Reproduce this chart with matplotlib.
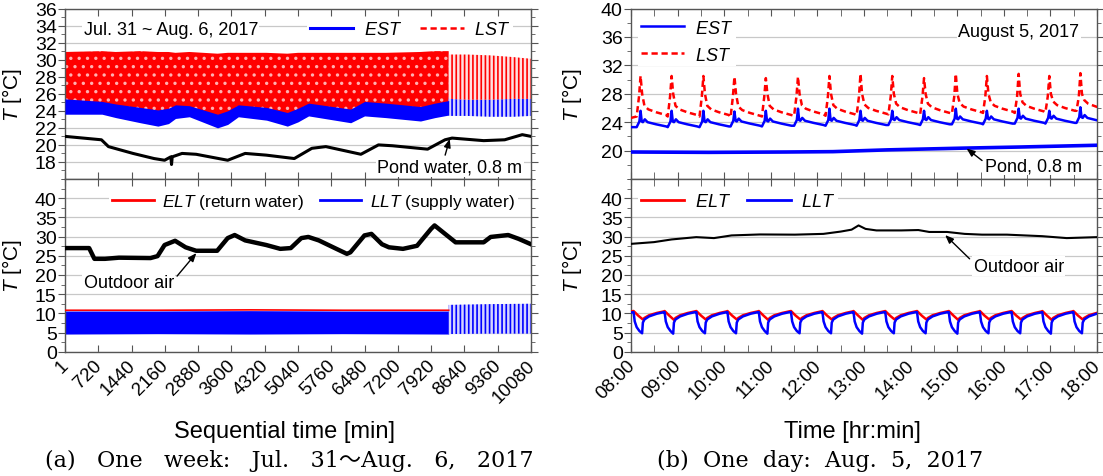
import numpy as np
import matplotlib.pyplot as plt
from matplotlib.lines import Line2D
from matplotlib.ticker import MultipleLocator
from matplotlib.transforms import ScaledTranslation

plt.rcParams['font.family'] = ['Liberation Sans', 'DejaVu Sans']
plt.rcParams['mathtext.fontset'] = 'custom'
plt.rcParams['mathtext.rm'] = 'Liberation Sans'
plt.rcParams['mathtext.it'] = 'Liberation Sans:italic'
plt.rcParams['hatch.linewidth'] = 1.2

RED = '#ff0000'
BLUE = '#0000ff'
GRID = '#c8c8c8'
SPINE = '#555555'

# ---------------- (a) one week, sequential time [min] ----------------
week_ticks = [1, 720, 1440, 2160, 2880, 3600, 4320, 5040, 5760, 6480,
              7200, 7920, 8640, 9360, 10080]

pond_t = [1, 789, 941, 1472, 1927, 2155, 2290, 2305, 2320, 2533, 2837, 3520,
          3898, 4353, 4960, 5340, 5643, 6401, 6781, 7084, 7843, 8221, 8373,
          9056, 9511, 9891, 10080]
pond_v = [21.0, 20.6, 19.8, 19.0, 18.4, 18.2, 18.6, 17.7, 18.6, 19.0, 18.9,
          18.2, 19.0, 18.8, 18.4, 19.6, 19.8, 18.9, 20.0, 19.9, 19.5, 20.6,
          20.8, 20.5, 20.6, 21.2, 21.0]

# dense oscillation envelopes
band_t = [1, 800, 1100, 1630, 2010, 2240, 2390, 2690, 3300, 3520, 3750, 4360,
          4810, 5040, 5270, 6180, 6480, 6940, 7690, 8000, 8300]
est_lo = [23.6, 23.6, 23.2, 22.6, 22.2, 22.5, 23.1, 23.3, 22.0, 22.4, 23.3,
          22.9, 22.2, 22.7, 23.4, 22.6, 23.4, 23.2, 22.8, 23.2, 23.5]
est_hi = [25.4, 25.1, 24.8, 24.4, 24.1, 24.3, 24.7, 24.6, 23.6, 24.0, 24.7,
          24.4, 23.8, 24.3, 24.9, 24.2, 25.1, 24.9, 24.5, 24.9, 25.2]
lst_lo = [24.8, 24.6, 24.4, 24.0, 23.8, 23.9, 24.3, 24.2, 23.3, 23.6, 24.3,
          24.0, 23.5, 23.9, 24.5, 23.8, 24.7, 24.5, 24.1, 24.5, 24.8]
lst_hi = [30.9, 31.0, 30.9, 31.0, 30.9, 30.9, 30.8, 30.9, 30.7, 30.8, 30.8,
          30.8, 30.7, 30.8, 30.8, 30.8, 30.8, 30.8, 30.9, 31.0, 31.0]

# sparse part at the end of the week
sparse_t = [8300, 8700, 9200, 9700, 10080]
lst_sp_lo = [25.4, 25.3, 25.3, 25.4, 25.4]
lst_sp_hi = [30.6, 30.6, 30.5, 30.3, 30.1]
est_sp_lo = [23.4, 23.4, 23.3, 23.3, 23.4]
est_sp_hi = [25.6, 25.6, 25.5, 25.6, 25.6]

air_t = [1, 523, 637, 865, 1168, 1850, 2002, 2155, 2382, 2610, 2837, 3292,
         3520, 3671, 3898, 4353, 4657, 4884, 5112, 5264, 5491, 5871, 6098,
         6174, 6478, 6629, 6857, 7008, 7311, 7615, 7918, 7994, 8221, 8449,
         9056, 9208, 9587, 9814, 10080]
air_v = [27.0, 27.0, 24.2, 24.2, 24.5, 24.4, 24.9, 27.8, 28.9, 27.2, 26.3,
         26.3, 29.6, 30.4, 29.0, 27.8, 26.8, 27.0, 29.6, 29.9, 29.0, 26.8,
         25.5, 25.9, 30.3, 30.7, 28.0, 27.2, 26.8, 27.6, 32.0, 32.9, 30.7,
         28.5, 28.5, 29.9, 30.4, 29.4, 28.0]

loop_t = [1, 2000, 4000, 6000, 8300]
llt_lo = [4.6, 4.7, 4.6, 4.7, 4.6]
llt_hi = [10.6, 10.6, 10.7, 10.6, 10.6]
elt_v = [10.8, 10.8, 10.9, 10.8, 10.8]
llt_sp_t = [8300, 9200, 10080]
llt_sp_lo = [4.6, 4.7, 4.7]
llt_sp_hi = [12.2, 12.4, 12.5]

# ---------------- (b) one day, Aug. 5 08:00-18:00 (min after 08:00) ----------------
hour_labels = ['08:00', '09:00', '10:00', '11:00', '12:00', '13:00', '14:00',
               '15:00', '16:00', '17:00', '18:00']

peak_t = [12.3, 52.3, 93.2, 133.2, 173.6, 215.0, 255.5, 295.5, 336.4, 377.3,
          418.2, 458.2, 499.1, 538.6, 578.6]
lst_peak = [30.5, 30.5, 30.5, 30.4, 30.2, 30.4, 30.5, 30.8, 30.5, 30.2, 30.8,
            30.5, 30.8, 30.5, 30.9]
lst_base = [25.0, 25.0, 25.0, 24.9, 25.0, 25.1, 25.1, 25.2, 25.3, 25.3, 25.4,
            25.5, 25.5, 25.6, 25.8]
est_peak = [25.6, 25.6, 25.6, 25.5, 25.6, 25.9, 25.9, 25.6, 25.6, 25.6, 25.9,
            25.6, 25.9, 25.6, 26.1]
est_base = [23.3, 23.3, 23.3, 23.4, 23.4, 23.5, 23.5, 23.5, 23.6, 23.6, 23.7,
            23.7, 23.8, 23.8, 23.9]
llt_min = [4.8, 4.7, 4.8, 4.8, 4.7, 4.8, 4.8, 4.7, 4.8, 4.8, 4.7, 4.8, 4.8,
           4.7, 4.8]
elt_min = [8.4, 8.3, 8.4, 8.4, 8.3, 8.4, 8.4, 8.3, 8.4, 8.4, 8.3, 8.4, 8.4,
           8.3, 8.4]

pond_d_t = [0, 100, 200, 260, 330, 430, 500, 600]
pond_d_v = [19.8, 19.75, 19.8, 19.85, 20.1, 20.35, 20.5, 20.75]

air_d_t = [0, 29.5, 52.3, 84, 106.8, 129.5, 166, 211, 247.7, 270, 284, 293,
           302, 316, 348, 370, 384, 407, 429.5, 452, 484, 529.5, 561, 600]
air_d_v = [28.1, 28.55, 29.25, 29.85, 29.6, 30.3, 30.55, 30.5, 30.7, 31.3,
           31.8, 32.9, 32.0, 31.6, 31.6, 31.7, 31.2, 31.2, 30.7, 30.5, 30.5,
           30.1, 29.6, 29.85]

# one measured cycle shape (minutes from the event, offsets in degC)
lst_dt = [-5, -2, 0, 2, 5, 10, 20, 33]
est_dt = [-5, -1.5, 0, 1.5, 3, 5.5, 9, 20, 33]
est_off = [0, 0.8, None, 0.8, 0.7, 1.1, 0.7, 0.4, 0.1]
llt_dt = [0, 1.5, 4, 7.5, 11, 12, 14, 20, 30, 39]
llt_val = [10.3, 7.9, 6.4, 5.4, None, 7.6, 8.4, 9.2, 9.9, 10.3]
elt_dt = [0, 6, 12, 14, 20, 30, 39]
elt_val = [10.6, 9.4, None, 8.8, 9.5, 10.1, 10.5]

lst_x, lst_y = [0], [24.6]
est_x, est_y = [0], [23.3]
llt_x, llt_y = [0], [10.2]
elt_x, elt_y = [0], [10.5]
for i, tp in enumerate(peak_t):
    b = lst_base[i]
    lst_x += [tp + d for d in lst_dt]
    lst_y += [b - 0.2, 27.6, lst_peak[i], 28.0, b + 1.3, b + 0.8, b + 0.4, b]
    eb = est_base[i]
    est_x += [tp + d for d in est_dt]
    est_y += [est_peak[i] if o is None else eb + o for o in est_off]
    td = tp - 9
    llt_x += [td + d for d in llt_dt]
    llt_y += [llt_min[i] if v is None else v for v in llt_val]
    elt_x += [td + d for d in elt_dt]
    elt_y += [elt_min[i] if v is None else v for v in elt_val]

# ---------------- figure ----------------
fig = plt.figure(figsize=(11.03, 4.77), dpi=100)
W, H = 1103, 477
def box(x0, x1, y0, y1):
    return [x0 / W, 1 - y1 / H, (x1 - x0) / W, (y1 - y0) / H]

axA1 = fig.add_axes(box(65, 531, 9.5, 180))
axA2 = fig.add_axes(box(65, 531, 180, 352.7))
axB1 = fig.add_axes(box(631, 1097, 9.5, 180))
axB2 = fig.add_axes(box(631, 1097, 180, 352.7))

for ax in (axA1, axA2, axB1, axB2):
    ax.grid(axis='y', color=GRID, lw=0.9, zorder=0)
    ax.set_axisbelow(True)
    for s in ax.spines.values():
        s.set_color(SPINE)
        s.set_linewidth(1.0)
    ax.tick_params(axis='x', which='both', direction='in', top=True,
                   length=5, color=SPINE, labelsize=13.5)
    ax.tick_params(axis='y', which='both', direction='out', right=True,
                   length=5, color=SPINE, labelsize=14, pad=1)
    ax.tick_params(axis='y', which='minor', length=3)

legkw = dict(fontsize=13, handlelength=2.4, handletextpad=0.6,
             borderpad=0.15, borderaxespad=0, fancybox=False, framealpha=1,
             facecolor='white', edgecolor='none')
arrowkw = dict(arrowstyle='-|>,head_length=0.5,head_width=0.2', color='k',
               lw=1, shrinkA=0, shrinkB=0)
textbox = dict(facecolor='white', edgecolor='none', pad=1)

# (a) top
ax = axA1
ax.fill_between(band_t, lst_lo, lst_hi, facecolor=RED, edgecolor='#ffb0b0',
                hatch='..', lw=0, zorder=2)
ax.fill_between(band_t, est_lo, est_hi, color=BLUE, lw=0, zorder=3)
ax.fill_between(sparse_t, est_sp_lo, est_sp_hi, facecolor='#d4d4ff',
                edgecolor=BLUE, hatch='||||', lw=0, zorder=2)
ax.fill_between(sparse_t, lst_sp_lo, lst_sp_hi, facecolor='#ffe0e0',
                edgecolor=RED, hatch='||||', lw=0, zorder=2)
ax.plot(pond_t, pond_v, color='k', lw=2.2, zorder=4)
ax.set_xlim(1, 10080)
ax.set_ylim(16, 36)
ax.set_yticks(range(18, 37, 2))
ax.yaxis.set_minor_locator(MultipleLocator(1))
ax.set_xticks(week_ticks)
ax.set_xticklabels([])
ax.text(0.04, 0.875, 'Jul. 31 ~ Aug. 6, 2017', transform=ax.transAxes,
        ha='left', va='center', fontsize=13, zorder=6, bbox=textbox)
h = [Line2D([], [], color=BLUE, lw=2.2),
     Line2D([], [], color=RED, lw=1.8, ls=(0, (2.5, 1.5)))]
leg = ax.legend(h, [r'$EST$', r'$LST$'], ncol=2, loc='center left',
                bbox_to_anchor=(0.52, 0.875), columnspacing=1.0, **legkw)
leg.set_zorder(6)
ax.annotate('', xy=(8322, 20.7), xytext=(8223, 18.8), arrowprops=arrowkw,
            zorder=6)
ax.text(9890, 17.4, 'Pond water, 0.8 m', ha='right', va='center', fontsize=13,
        zorder=6, bbox=textbox)
ax.set_ylabel(r'$T$ [°C]', fontsize=15)
ax.yaxis.set_label_coords(-0.088, 0.5)

# (a) bottom
ax = axA2
ax.fill_between(loop_t, llt_lo, llt_hi, color=BLUE, lw=0, zorder=2)
ax.fill_between(llt_sp_t, llt_sp_lo, llt_sp_hi, facecolor='#d4d4ff',
                edgecolor=BLUE, hatch='||||', lw=0, zorder=2)
ax.plot(loop_t, elt_v, color=RED, lw=1.2, zorder=3)
ax.plot(air_t, air_v, color='k', lw=3.2, zorder=4)
ax.set_xlim(1, 10080)
ax.set_ylim(0, 45)
ax.set_yticks(range(0, 41, 5))
ax.yaxis.set_minor_locator(MultipleLocator(2.5))
ax.set_xticks(week_ticks)
ax.set_xticklabels([str(v) for v in week_ticks], rotation=45, ha='right',
                   va='top', rotation_mode='anchor')
h = [Line2D([], [], color=RED, lw=2), Line2D([], [], color=BLUE, lw=2)]
k = dict(legkw, fontsize=12.5, handletextpad=0.5)
leg = ax.legend(h, [r'$ELT$ (return water)', r'$LLT$ (supply water)'], ncol=2,
                loc='center left', bbox_to_anchor=(0.095, 0.867),
                columnspacing=0.9, **k)
ax.annotate('', xy=(2842, 25.7), xytext=(2425, 19.7), arrowprops=arrowkw,
            zorder=6)
ax.text(402, 18.1, 'Outdoor air', ha='left', va='center', fontsize=13,
        zorder=6, bbox=textbox)
ax.set_ylabel(r'$T$ [°C]', fontsize=15)
ax.yaxis.set_label_coords(-0.088, 0.5)

# (b) top
ax = axB1
ax.plot(pond_d_t, pond_d_v, color=BLUE, lw=2.6, zorder=3)
ax.plot(est_x, est_y, color=BLUE, lw=1.8, zorder=3)
ax.plot(lst_x, lst_y, color=RED, lw=1.8, ls=(0, (2.5, 1.5)), zorder=3)
ax.set_xlim(0, 600)
ax.set_ylim(16, 40)
ax.set_yticks(range(20, 41, 4))
ax.yaxis.set_minor_locator(MultipleLocator(2))
ax.set_xticks(range(0, 601, 60))
ax.xaxis.set_minor_locator(MultipleLocator(30))
ax.set_xticklabels([])
h = [Line2D([], [], color=BLUE, lw=1.8),
     Line2D([], [], color=RED, lw=1.8, ls=(0, (2.5, 1.5)))]
leg = ax.legend(h, [r'$EST$', r'$LST$'], loc='upper left',
                bbox_to_anchor=(0.015, 0.95), labelspacing=0.55, **legkw)
ax.text(0.962, 0.8625, 'August 5, 2017', transform=ax.transAxes, ha='right',
        va='center', fontsize=13, zorder=6, bbox=textbox)
ax.annotate('', xy=(432, 20.3), xytext=(452, 18.6), arrowprops=arrowkw,
            zorder=6)
ax.text(456, 17.9, 'Pond, 0.8 m', ha='left', va='center', fontsize=13,
        zorder=6, bbox=textbox)
ax.set_ylabel(r'$T$ [°C]', fontsize=15)
ax.yaxis.set_label_coords(-0.1, 0.5)

# (b) bottom
ax = axB2
ax.plot(elt_x, elt_y, color=RED, lw=1.8, zorder=3)
ax.plot(llt_x, llt_y, color=BLUE, lw=1.8, zorder=3)
ax.plot(air_d_t, air_d_v, color='k', lw=1.5, zorder=3)
ax.set_xlim(0, 600)
ax.set_ylim(0, 45)
ax.set_yticks(range(0, 41, 5))
ax.yaxis.set_minor_locator(MultipleLocator(2.5))
ax.set_xticks(range(0, 601, 60))
ax.xaxis.set_minor_locator(MultipleLocator(30))
ax.set_xticklabels(hour_labels, rotation=45, ha='right', va='top',
                   rotation_mode='anchor')
h = [Line2D([], [], color=RED, lw=2), Line2D([], [], color=BLUE, lw=2)]
leg = ax.legend(h, [r'$ELT$', r'$LLT$'], ncol=2, loc='center left',
                bbox_to_anchor=(0.015, 0.867), columnspacing=0.9, **legkw)
ax.annotate('', xy=(404.5, 30.4), xytext=(436, 24.2), arrowprops=arrowkw,
            zorder=6)
ax.text(441, 22.3, 'Outdoor air', ha='left', va='center', fontsize=13,
        zorder=6, bbox=textbox)
ax.set_ylabel(r'$T$ [°C]', fontsize=15)
ax.yaxis.set_label_coords(-0.1, 0.5)

# nudge rotated tick labels a little left so they stay inside the figure
shift = ScaledTranslation(-5 / 100, 0, fig.dpi_scale_trans)
for ax in (axA2, axB2):
    for lab in ax.get_xticklabels():
        lab.set_transform(lab.get_transform() + shift)

fig.text(285 / W, 1 - 432 / H, 'Sequential time [min]', ha='center',
         va='center', fontsize=17)
fig.text(852 / W, 1 - 432 / H, 'Time [hr:min]', ha='center', va='center',
         fontsize=17)
cap = ['DejaVu Serif', 'Noto Sans CJK KR']
fig.text(289 / W, 1 - 461 / H, '(a)   One   week:   Jul.   31～Aug.   6,   2017',
         ha='center', va='center', fontsize=16, family=cap)
fig.text(820 / W, 1 - 461 / H, '(b)  One  day:  Aug.  5,  2017', ha='center',
         va='center', fontsize=16, family=cap)

fig.savefig('out.png', dpi=100)
